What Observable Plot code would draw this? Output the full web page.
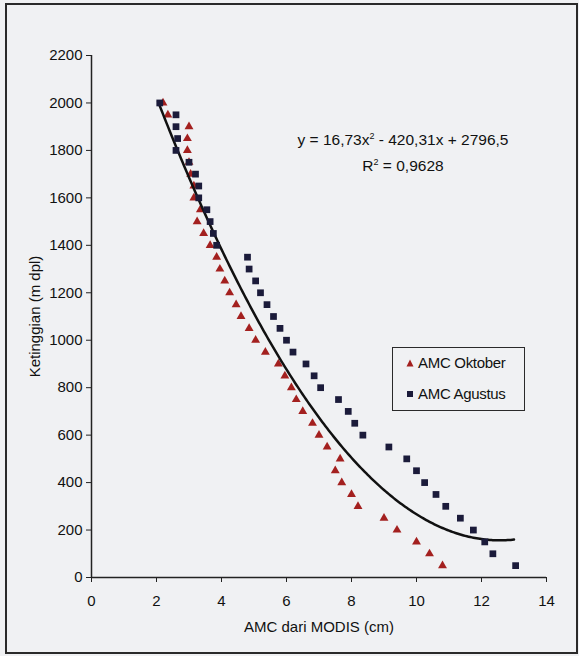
<!DOCTYPE html>
<html>
<head>
<meta charset="utf-8">
<script src="https://cdn.jsdelivr.net/npm/d3@7"></script>
<script src="https://cdn.jsdelivr.net/npm/@observablehq/plot@0.6"></script>
<style>
  html, body { margin: 0; padding: 0; background: #eff0f2; }
  #wrap { position: relative; width: 579px; height: 656px; overflow: hidden; background: #f0f1f3; font-family: "Liberation Sans", Arial, sans-serif; color: #111; }
  #frame { position: absolute; left: 5px; top: 3px; width: 573px; height: 651px; box-sizing: border-box; border: 2px solid #2a2a2a; pointer-events: none; }
  #eq { position: absolute; left: 253px; width: 300px; top: 127px; text-align: center; font-size: 15.5px; letter-spacing: 0px; line-height: 26px; }
  #eq sup { font-size: 9px; line-height: 0; }
  #legend { position: absolute; left: 392px; top: 347px; width: 133px; height: 64px; box-sizing: border-box; border: 1.5px solid #2a2a2a; font-size: 15px; letter-spacing: -0.3px; }
  #legend .row { position: absolute; left: 13px; display: flex; align-items: center; gap: 4px; }
  svg.plot { position: absolute; left: 0; top: 0; }
</style>
</head>
<body>
<div id="wrap">
  <div id="eq">y = 16,73x<sup>2</sup> - 420,31x + 2796,5<br>R<sup>2</sup> = 0,9628</div>
  <div id="legend">
    <div class="row" style="top:6px"><svg width="8" height="8"><path d="M4,0.5L7.5,7.5L0.5,7.5Z" fill="#a3201f"/></svg><span>AMC Oktober</span></div>
    <div class="row" style="top:37px"><svg width="8" height="8"><rect x="1" y="1" width="6" height="6" fill="#1b1b3a"/></svg><span>AMC Agustus</span></div>
  </div>
  <div id="frame"></div>
</div>
<script>
// Tick labels
const xTicks = [0, 2, 4, 6, 8, 10, 12, 14];
const yTicks = [0, 200, 400, 600, 800, 1000, 1200, 1400, 1600, 1800, 2000, 2200];

// AMC Oktober (triangles): AMC (cm) and elevation (m dpl)
const oktX = [2.2, 2.35, 3.0, 2.95, 2.95, 3.0, 3.05, 3.15, 3.15, 3.35, 3.25, 3.45, 3.65, 3.85, 3.95, 4.1, 4.25, 4.45, 4.6, 4.85,
              5.05, 5.35, 5.75, 5.95, 6.15, 6.3, 6.5, 6.8, 7.0, 7.25, 7.65, 7.5, 7.7, 8.0, 8.2, 9.0, 9.4, 10.0, 10.4, 10.8];
const oktY = [2000, 1950, 1900, 1850, 1800, 1750, 1700, 1650, 1600, 1550, 1500, 1450, 1400, 1350, 1300, 1250, 1200, 1150, 1100, 1050,
              1000, 950, 900, 850, 800, 750, 700, 650, 600, 550, 500, 450, 400, 350, 300, 250, 200, 150, 100, 50];

// AMC Agustus (squares)
const agsX = [2.1, 2.6, 2.6, 2.65, 2.6, 3.0, 3.2, 3.3, 3.3, 3.55, 3.65, 3.75, 3.85, 4.8, 4.85, 5.05, 5.2, 5.4, 5.6, 5.8,
              6.0, 6.2, 6.6, 6.85, 7.05, 7.6, 7.9, 8.1, 8.35, 9.15, 9.7, 10.0, 10.25, 10.6, 10.9, 11.35, 11.75, 12.1, 12.35, 13.05];
const agsY = [2000, 1950, 1900, 1850, 1800, 1750, 1700, 1650, 1600, 1550, 1500, 1450, 1400, 1350, 1300, 1250, 1200, 1150, 1100, 1050,
              1000, 950, 900, 850, 800, 750, 700, 650, 600, 550, 500, 450, 400, 350, 300, 250, 200, 150, 100, 50];

// Polynomial trendline as printed on the chart: y = 16.73x^2 - 420.31x + 2796.5
const trendCoef = [16.73, -420.31, 2796.5];
const trendRange = [2.05, 13.0];

const okt = oktX.map((x, i) => ({x, y: oktY[i]}));
const ags = agsX.map((x, i) => ({x, y: agsY[i]}));
const trend = d3.range(trendRange[0], trendRange[1] + 1e-9, 0.05)
  .map(x => ({x, y: trendCoef[0] * x * x + trendCoef[1] * x + trendCoef[2]}));

const chart = Plot.plot({
  width: 579,
  height: 656,
  marginLeft: 91,
  marginRight: 33,
  marginTop: 55,
  marginBottom: 79,
  style: {background: "transparent", fontFamily: "'Liberation Sans', Arial, sans-serif", fontSize: "15px", color: "#111", overflow: "visible"},
  x: {domain: [0, 14]},
  y: {domain: [0, 2200]},
  marks: [
    Plot.axisY({ticks: yTicks, tickSize: 5, tickPadding: 4, tickFormat: d => String(d),
      label: "Ketinggian (m dpl)", labelAnchor: "center", labelOffset: 62, labelArrow: "none", stroke: "#222", fill: "#111"}),
    Plot.axisX({ticks: xTicks, tickSize: 5, tickPadding: 13, tickFormat: d => String(d),
      label: "AMC dari MODIS (cm)", labelAnchor: "center", labelOffset: 54, labelArrow: "none", stroke: "#222", fill: "#111"}),
    Plot.ruleX([0], {stroke: "#222", strokeWidth: 1.5}),
    Plot.ruleY([0], {stroke: "#222", strokeWidth: 1.5}),
    Plot.dot(okt, {x: "x", y: "y", symbol: "triangle", r: 3.3, fill: "#a3201f", stroke: "none"}),
    Plot.line(trend, {x: "x", y: "y", stroke: "#111", strokeWidth: 2.5}),
    Plot.dot(ags, {x: "x", y: "y", symbol: "square", r: 3.8, fill: "#1b1b3a", stroke: "none"})
  ]
});
document.getElementById("wrap").prepend(chart);
</script>
</body>
</html>
